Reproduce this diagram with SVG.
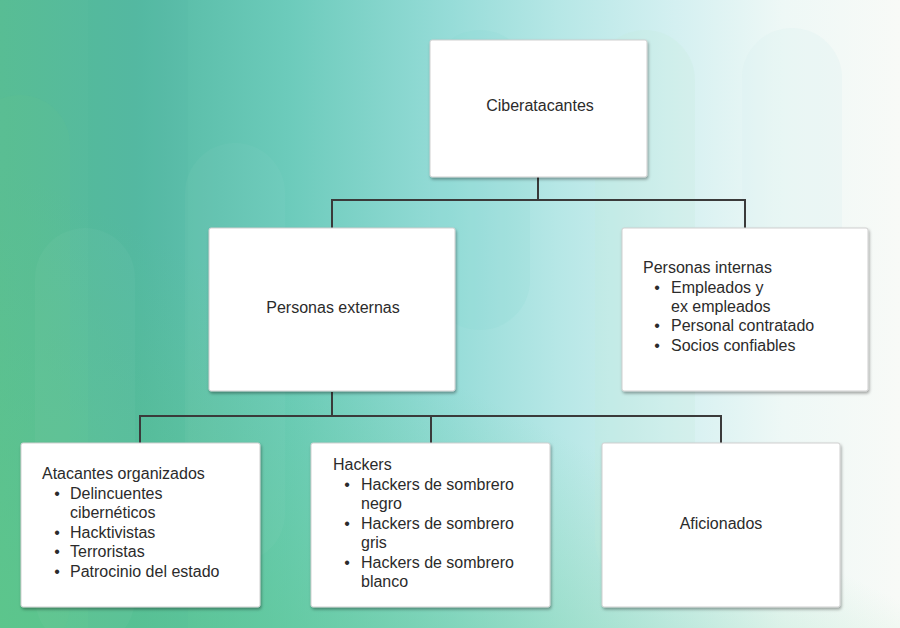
<svg xmlns="http://www.w3.org/2000/svg" width="900" height="628" viewBox="0 0 900 628">
<defs>
<linearGradient id="bg" x1="0" y1="0" x2="1" y2="0">
<stop offset="0" stop-color="#58bd94"/>
<stop offset="0.15" stop-color="#55b9a2"/>
<stop offset="0.32" stop-color="#6ccbbb"/>
<stop offset="0.5" stop-color="#96dcd8"/>
<stop offset="0.62" stop-color="#b6e7e6"/>
<stop offset="0.75" stop-color="#d4f0f1"/>
<stop offset="0.87" stop-color="#eef8f6"/>
<stop offset="1" stop-color="#f8faf7"/>
</linearGradient>
<linearGradient id="bg2" x1="0" y1="1" x2="0.7" y2="0">
<stop offset="0" stop-color="#5cc98a" stop-opacity="0.7"/>
<stop offset="0.5" stop-color="#5cc98a" stop-opacity="0"/>
</linearGradient>
<filter id="sh" x="-5%" y="-5%" width="115%" height="120%">
<feDropShadow dx="1" dy="2" stdDeviation="1.5" flood-color="#000" flood-opacity="0.35"/>
</filter>
<style>
.box{fill:#fff;stroke:#cfcfcf;stroke-width:1;filter:url(#sh)}
.t{font-family:"Liberation Sans",Arial,sans-serif;font-size:16px;fill:#2b2b2b}
.m{text-anchor:middle}
.c{fill:none;stroke:#3a3a3a;stroke-width:2}
.pill{fill:#ffffff;opacity:0.03}
</style>
</defs>
<g id="background">
<rect x="0" y="0" width="900" height="628" fill="url(#bg)"/>
<rect x="0" y="0" width="900" height="628" fill="url(#bg2)"/>
<rect x="88" y="0" width="100" height="628" fill="#4ab0a0" opacity="0.06"/>
<rect x="-30" y="95" width="100" height="560" rx="50" fill="#6cc98a" opacity="0.12"/>
<rect x="35" y="228" width="100" height="420" rx="50" class="pill"/>
<rect x="185" y="143" width="100" height="420" rx="50" class="pill"/>
<rect x="430" y="30" width="100" height="300" rx="50" fill="#7fd6d0" opacity="0.12"/>
<rect x="595" y="30" width="100" height="560" rx="50" fill="#c5ead8" opacity="0.2"/>
<rect x="742" y="28" width="100" height="260" rx="50" fill="#d7eef0" opacity="0.25"/>
</g>
<g id="connectors">
<path class="c" d="M538 177V200M332 228V200H745V228"/>
<path class="c" d="M332 392V416M140 443V416H721V443M431 416V443"/>
</g>
<g id="node-ciberatacantes">
<rect class="box" x="430" y="40" width="217" height="137" rx="2"/>
<text class="t m" x="540" y="111">Ciberatacantes</text>
</g>
<g id="node-personas-externas">
<rect class="box" x="209" y="228" width="246" height="163" rx="2"/>
<text class="t m" x="333" y="313">Personas externas</text>
</g>
<g id="node-personas-internas">
<rect class="box" x="622" y="228" width="246" height="163" rx="2"/>
<text class="t" x="643" y="273">Personas internas</text>
<text class="t m" x="657" y="292.5">•</text>
<text class="t" x="671" y="292.5">Empleados y</text>
<text class="t" x="671" y="312">ex empleados</text>
<text class="t m" x="657" y="331">•</text>
<text class="t" x="671" y="331">Personal contratado</text>
<text class="t m" x="657" y="350.5">•</text>
<text class="t" x="671" y="350.5">Socios confiables</text>
</g>
<g id="node-atacantes-organizados">
<rect class="box" x="21" y="443" width="239" height="164" rx="2"/>
<text class="t" x="42" y="479">Atacantes organizados</text>
<text class="t m" x="57" y="498.5">•</text>
<text class="t" x="70" y="498.5">Delincuentes</text>
<text class="t" x="70" y="518">cibernéticos</text>
<text class="t m" x="57" y="537.5">•</text>
<text class="t" x="70" y="537.5">Hacktivistas</text>
<text class="t m" x="57" y="557">•</text>
<text class="t" x="70" y="557">Terroristas</text>
<text class="t m" x="57" y="576.5">•</text>
<text class="t" x="70" y="576.5">Patrocinio del estado</text>
</g>
<g id="node-hackers">
<rect class="box" x="311" y="443" width="239" height="164" rx="2"/>
<text class="t" x="333" y="470">Hackers</text>
<text class="t m" x="347" y="489.5">•</text>
<text class="t" x="361" y="489.5">Hackers de sombrero</text>
<text class="t" x="361" y="509">negro</text>
<text class="t m" x="347" y="528.5">•</text>
<text class="t" x="361" y="528.5">Hackers de sombrero</text>
<text class="t" x="361" y="548">gris</text>
<text class="t m" x="347" y="567.5">•</text>
<text class="t" x="361" y="567.5">Hackers de sombrero</text>
<text class="t" x="361" y="587">blanco</text>
</g>
<g id="node-aficionados">
<rect class="box" x="602" y="443" width="238" height="164" rx="2"/>
<text class="t m" x="721" y="529">Aficionados</text>
</g>
</svg>
